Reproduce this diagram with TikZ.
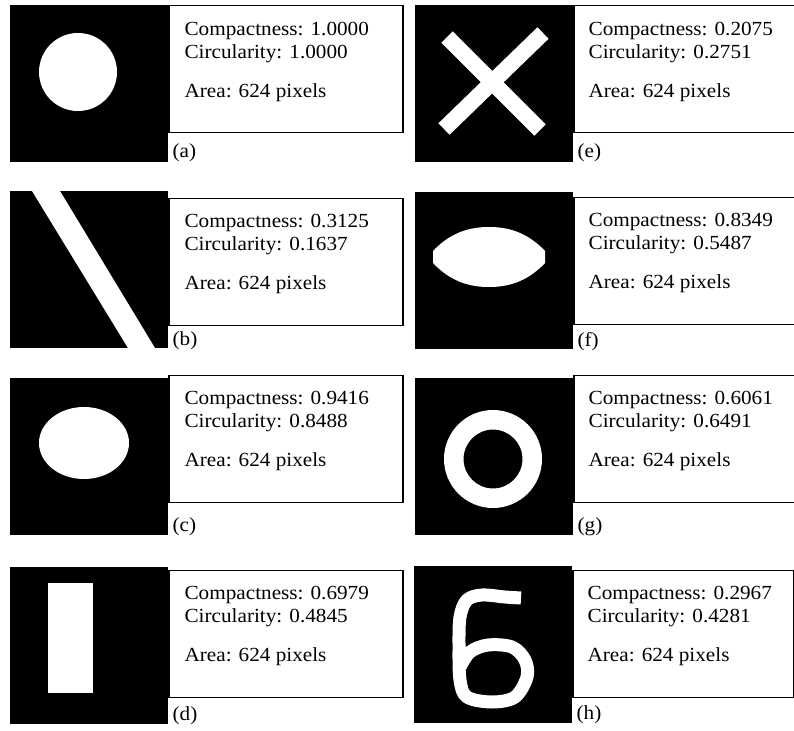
\documentclass[tikz,border=0pt]{standalone}
\usepackage{fontspec}
\setmainfont{Liberation Serif}
\usetikzlibrary{positioning}
\newcommand{\stretched}[1]{\scalebox{1.06}[1]{#1}}

\begin{document}
\begin{tikzpicture}[x=1pt, y=-1pt,
    img/.style={fill=black, minimum width=158pt, minimum height=157pt, anchor=north west, inner sep=0pt},
    statbox/.style={draw=black, line width=1.3pt, fill=white, minimum height=127pt, anchor=north west, inner sep=0pt},
    stat/.style={anchor=base west, inner sep=0pt, font=\fontsize{20}{22}\selectfont},
    tag/.style={anchor=base west, inner sep=0pt, font=\fontsize{20}{22}\selectfont}]
    \useasboundingbox (0,0) rectangle (794,730);

    % Panel (a): disc
    \begin{scope}[shift={(10,5)}]
        \node[img] (imga) at (0,0) {};
        \fill[white] (68,67) circle (39);
        \node[statbox, minimum width=234pt] (boxa) at (imga.north east) {};
        \node[stat] (compa) at ([shift={(16,31)}]boxa.north west) {\stretched{Compactness: 1.0000}};
        \node[stat] (circa) at ([shift={(0,23)}]compa.base west) {\stretched{Circularity: 1.0000}};
        \node[stat] (areaa) at ([shift={(0,39)}]circa.base west) {\stretched{Area: 624 pixels}};
        \node[tag] (taga) at ([shift={(4,-5)}]imga.south east) {\stretched{(a)}};
    \end{scope}

    % Panel (b): slanted bar
    \begin{scope}[shift={(10,191)}]
        \node[img] (imgb) at (0,0) {};
        \fill[white] (22,0) -- (50,0) -- (145,157) -- (118,157) -- cycle;
        \node[statbox, minimum width=234pt] (boxb) at ([shift={(0,7)}]imgb.north east) {};
        \node[stat] (compb) at ([shift={(16,29)}]boxb.north west) {\stretched{Compactness: 0.3125}};
        \node[stat] (circb) at ([shift={(0,23)}]compb.base west) {\stretched{Circularity: 0.1637}};
        \node[stat] (areab) at ([shift={(0,39)}]circb.base west) {\stretched{Area: 624 pixels}};
        \node[tag] (tagb) at ([shift={(4,-3)}]imgb.south east) {\stretched{(b)}};
    \end{scope}

    % Panel (c): ellipse
    \begin{scope}[shift={(10,378)}]
        \node[img] (imgc) at (0,0) {};
        \fill[white] (74,65) ellipse [x radius=45, y radius=36];
        \node[statbox, minimum width=234pt] (boxc) at ([shift={(0,-3)}]imgc.north east) {};
        \node[stat] (compc) at ([shift={(16,29)}]boxc.north west) {\stretched{Compactness: 0.9416}};
        \node[stat] (circc) at ([shift={(0,23)}]compc.base west) {\stretched{Circularity: 0.8488}};
        \node[stat] (areac) at ([shift={(0,39)}]circc.base west) {\stretched{Area: 624 pixels}};
        \node[tag] (tagc) at ([shift={(4,-4)}]imgc.south east) {\stretched{(c)}};
    \end{scope}

    % Panel (d): upright rectangle
    \begin{scope}[shift={(10,567)}]
        \node[img] (imgd) at (0,0) {};
        \fill[white] (38,16) rectangle (83,126);
        \node[statbox, minimum width=234pt] (boxd) at ([shift={(0,3)}]imgd.north east) {};
        \node[stat] (compd) at ([shift={(16,29)}]boxd.north west) {\stretched{Compactness: 0.6979}};
        \node[stat] (circd) at ([shift={(0,23)}]compd.base west) {\stretched{Circularity: 0.4845}};
        \node[stat] (aread) at ([shift={(0,39)}]circd.base west) {\stretched{Area: 624 pixels}};
        \node[tag] (tagd) at ([shift={(4,-4)}]imgd.south east) {\stretched{(d)}};
    \end{scope}

    % Panel (e): cross
    \begin{scope}[shift={(415,5)}]
        \node[img] (imge) at (0,0) {};
        \draw[white, line width=16pt] (32,32) -- (125,125) (128,28) -- (29,124);
        \node[statbox, minimum width=221pt] (boxe) at (imge.north east) {};
        \node[stat] (compe) at ([shift={(15,31)}]boxe.north west) {\stretched{Compactness: 0.2075}};
        \node[stat] (circe) at ([shift={(0,23)}]compe.base west) {\stretched{Circularity: 0.2751}};
        \node[stat] (areae) at ([shift={(0,39)}]circe.base west) {\stretched{Area: 624 pixels}};
        \node[tag] (tage) at ([shift={(4,-5)}]imge.south east) {\stretched{(e)}};
    \end{scope}

    % Panel (f): lens
    \begin{scope}[shift={(415,192)}]
        \node[img] (imgf) at (0,0) {};
        \fill[white] (18,59) .. controls (36,40) and (55,35) .. (74,35)
            .. controls (93,35) and (112,40) .. (130,59) -- (130,71)
            .. controls (112,90) and (93,95) .. (74,95)
            .. controls (55,95) and (36,90) .. (18,71) -- cycle;
        \node[statbox, minimum width=221pt] (boxf) at ([shift={(0,5)}]imgf.north east) {};
        \node[stat] (compf) at ([shift={(15,29)}]boxf.north west) {\stretched{Compactness: 0.8349}};
        \node[stat] (circf) at ([shift={(0,23)}]compf.base west) {\stretched{Circularity: 0.5487}};
        \node[stat] (areaf) at ([shift={(0,39)}]circf.base west) {\stretched{Area: 624 pixels}};
        \node[tag] (tagf) at ([shift={(4,-3)}]imgf.south east) {\stretched{(f)}};
    \end{scope}

    % Panel (g): ring
    \begin{scope}[shift={(415,378)}]
        \node[img] (imgg) at (0,0) {};
        \fill[white, even odd rule] (78,81) circle (49) (78,81) circle (29.5);
        \node[statbox, minimum width=221pt] (boxg) at ([shift={(0,-3)}]imgg.north east) {};
        \node[stat] (compg) at ([shift={(15,29)}]boxg.north west) {\stretched{Compactness: 0.6061}};
        \node[stat] (circg) at ([shift={(0,23)}]compg.base west) {\stretched{Circularity: 0.6491}};
        \node[stat] (areag) at ([shift={(0,39)}]circg.base west) {\stretched{Area: 624 pixels}};
        \node[tag] (tagg) at ([shift={(4,-4)}]imgg.south east) {\stretched{(g)}};
    \end{scope}

    % Panel (h): handwritten six
    \begin{scope}[shift={(414,566)}]
        \node[img] (imgh) at (0,0) {};
        \draw[white, line width=13pt, line join=round] plot[smooth, tension=0.55] coordinates {
            (107,32) (91,31) (68,29) (53,34) (46,51) (45,81) (46,114) (53,131) (78,136)
            (101,131) (113,111) (111,94) (98,81) (74,79) (56,86) (46,101)};
        \node[statbox, minimum width=221pt] (boxh) at ([shift={(0,4)}]imgh.north east) {};
        \node[stat] (comph) at ([shift={(15,29)}]boxh.north west) {\stretched{Compactness: 0.2967}};
        \node[stat] (circh) at ([shift={(0,23)}]comph.base west) {\stretched{Circularity: 0.4281}};
        \node[stat] (areah) at ([shift={(0,39)}]circh.base west) {\stretched{Area: 624 pixels}};
        \node[tag] (tagh) at ([shift={(4,-4)}]imgh.south east) {\stretched{(h)}};
    \end{scope}
\end{tikzpicture}
\end{document}
